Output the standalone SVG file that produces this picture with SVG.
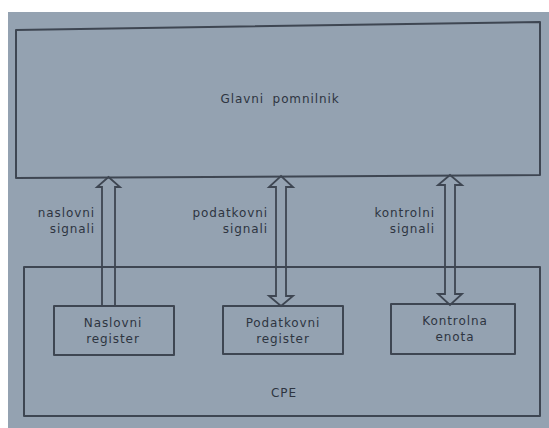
<svg xmlns="http://www.w3.org/2000/svg" width="549" height="428" viewBox="0 0 549 428">
  <style>
    .frame { fill: none; stroke: #3e4652; stroke-width: 2; stroke-linejoin: round; }
    .bus { fill: none; stroke: #3e4652; stroke-width: 1.8; stroke-linejoin: miter; }
    .lbl { font-family: "DejaVu Sans", "Liberation Sans", sans-serif; font-size: 12px; fill: #2e3541; letter-spacing: 0.9px; }
    .mid { text-anchor: middle; }
    .end { text-anchor: end; }
  </style>

  <!-- page and paper tone -->
  <rect x="0" y="0" width="549" height="428" fill="#ffffff"/>
  <rect x="8" y="12" width="541" height="416" fill="#94a2b1"/>

  <!-- main memory -->
  <g id="glavni-pomnilnik">
    <path class="frame" d="M16,30 L540,22 L540,175 L16,178 Z"/>
    <text class="lbl mid" x="280" y="103" word-spacing="4">Glavni pomnilnik</text>
  </g>

  <!-- CPU -->
  <g id="cpe">
    <rect class="frame" x="24" y="267" width="516" height="149"/>
    <text class="lbl mid" x="284" y="397">CPE</text>
  </g>

  <g id="naslovni-register">
    <rect class="frame" x="54" y="306" width="120" height="49"/>
    <text class="lbl mid" x="113" y="327">Naslovni</text>
    <text class="lbl mid" x="113" y="343">register</text>
  </g>

  <g id="podatkovni-register">
    <rect class="frame" x="223" y="306" width="120" height="48"/>
    <text class="lbl mid" x="283" y="327">Podatkovni</text>
    <text class="lbl mid" x="283" y="343">register</text>
  </g>

  <g id="kontrolna-enota">
    <rect class="frame" x="391" y="304" width="124" height="50"/>
    <text class="lbl mid" x="455" y="325">Kontrolna</text>
    <text class="lbl mid" x="455" y="341">enota</text>
  </g>

  <!-- buses between CPU and memory -->
  <g id="connectors">
    <path class="bus" d="M102,306 V187 H97 L108.5,177 L120,187 H115 V306"/>
    <path class="bus" d="M281,176 L293,187 H286 V296 H293 L281,306 L269,296 H276 V187 H269 Z"/>
    <path class="bus" d="M450,175 L462,185 H455 V294 H462 L450,305 L438,294 H445 V185 H438 Z"/>

    <text class="lbl end" x="95" y="217">naslovni</text>
    <text class="lbl end" x="95" y="233">signali</text>
    <text class="lbl end" x="268" y="217">podatkovni</text>
    <text class="lbl end" x="268" y="233">signali</text>
    <text class="lbl end" x="435" y="217">kontrolni</text>
    <text class="lbl end" x="435" y="233">signali</text>
  </g>
</svg>
